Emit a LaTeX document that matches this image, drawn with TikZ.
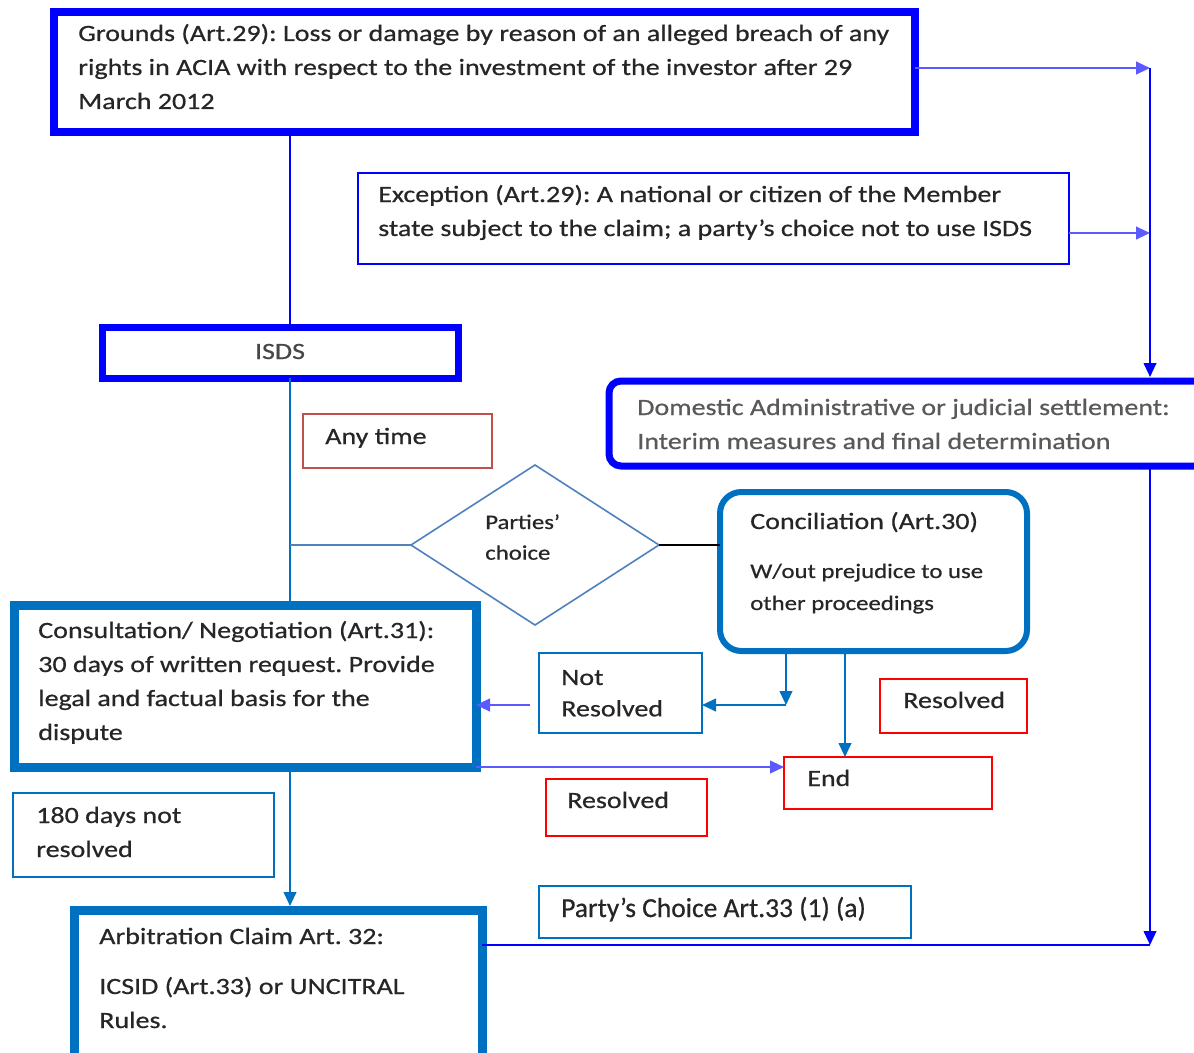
\documentclass[tikz,border=0pt]{standalone}
\usepackage{fontspec}
\setmainfont[FakeStretch=1.2,FakeBold=0.6]{Carlito}
\newfontfamily\plainfont[FakeBold=0.6]{Carlito}
\usetikzlibrary{arrows.meta,shapes.geometric}
\definecolor{pureblue}{HTML}{0000FF}
\definecolor{lightblue}{HTML}{5A5AFF}
\definecolor{midblue}{HTML}{0070C0}
\definecolor{dred}{HTML}{C0504D}
\definecolor{bred}{HTML}{FF0000}
\definecolor{dia}{HTML}{4F81BD}
\definecolor{txtc}{HTML}{262626}
\definecolor{gtxt}{HTML}{595959}
\frenchspacing
\begin{document}
\begin{tikzpicture}[x=0.75pt,y=-0.75pt,
  bx/.style n args={4}{draw, rectangle, inner sep=0pt, outer sep=0pt,
     minimum width={(#3-#1)*0.75pt}, minimum height={(#4-#2)*0.75pt},
     at={({(#1+#3)/2},{(#2+#4)/2})}},
  lw/.style={line width={#1*0.75pt}},
  tx/.style={anchor=base west, inner sep=0pt, text=txtc, font=\frenchspacing\fontsize{17.5}{25.5}\selectfont},
  txs/.style={anchor=base west, inner sep=0pt, text=txtc, font=\frenchspacing\fontsize{15.5}{24}\selectfont},
  tip/.style={-{Triangle[length=10.5pt,width=9.5pt]}},
  bline/.style={draw=pureblue, lw=2},
  barr/.style={draw=pureblue, fill=pureblue, lw=2, tip},
  larr/.style={draw=lightblue, fill=pureblue, lw=2, tip},
  mline/.style={draw=midblue, lw=1.6},
  marr/.style={draw=midblue, fill=midblue, lw=2, tip},
  dline/.style={draw=dia, lw=1.6},
  kline/.style={draw=black, lw=1.4}
]
\fill[white] (0,0) rectangle (1194,1052);
\useasboundingbox (0,0) rectangle (1194,1052);

% boxes
\node[bx={54}{12}{915}{132}, draw=pureblue, lw=8] (grounds) {};
\node[bx={358}{173}{1069}{264}, draw=pureblue, lw=2] (exception) {};
\node[bx={102}{327}{458}{378}, draw=pureblue, lw=7] (isds) {};
\node[bx={609}{381}{1215}{466}, draw=pureblue, lw=7, rounded corners=9pt] (domestic) {};
\node[bx={303}{414}{492}{468}, draw=dred, lw=2] (anytime) {};
\node[diamond, draw=dia, lw=1.6, inner sep=0pt, outer sep=0pt,
      minimum width=248*0.75pt, minimum height=160*0.75pt] (dec) at (535,545) {};
\node[bx={720}{492}{1027}{651}, draw=midblue, lw=6, rounded corners=16pt] (concil) {};
\node[bx={14}{605}{476}{767}, draw=midblue, lw=9] (consult) {};
\node[bx={539}{653}{702}{733}, draw=midblue, lw=2] (notres) {};
\node[bx={880}{679}{1027}{733}, draw=bred, lw=2] (resR) {};
\node[bx={784}{757}{992}{809}, draw=bred, lw=2] (endbox) {};
\node[bx={546}{779}{707}{836}, draw=bred, lw=2] (resM) {};
\node[bx={13}{793}{274}{877}, draw=midblue, lw=2] (days) {};
\node[bx={539}{886}{911}{938}, draw=midblue, lw=2] (party) {};
\node[bx={74}{910}{482}{1064}, draw=midblue, lw=9] (arb) {};

% texts
\node[tx] (groundsT) at (78,41) {\begin{tabular}[t]{@{}l@{}}Grounds (Art.29): Loss or damage by reason of an alleged breach of any\\ rights in ACIA with respect to the investment of the investor after 29\\ March 2012\end{tabular}};
\node[tx] (exceptionT) at (378,202) {\begin{tabular}[t]{@{}l@{}}Exception (Art.29): A national or citizen of the Member\\ state subject to the claim; a party’s choice not to use ISDS\end{tabular}};
\node[tx, anchor=base, text=gtxt!80!black] (isdsT) at (280,359) {ISDS};
\node[tx, text=gtxt] (domesticT) at (637,415) {\begin{tabular}[t]{@{}l@{}}Domestic Administrative or judicial settlement:\\ Interim measures and final determination\end{tabular}};
\node[tx] (anytimeT) at (325,444) {Any time};
\node[txs] (decT) at (485,529) {\begin{tabular}[t]{@{}l@{}}Parties’\\[-1pt] choice\end{tabular}};
\node[tx] (concilT) at (750,529) {Conciliation (Art.30)};
\node[txs] (concilT2) at (750,578) {\begin{tabular}[t]{@{}l@{}}W/out prejudice to use\\ other proceedings\end{tabular}};
\node[tx] (consultT) at (38,638) {\begin{tabular}[t]{@{}l@{}}Consultation/ Negotiation (Art.31):\\ 30 days of written request. Provide\\ legal and factual basis for the\\ dispute\end{tabular}};
\node[tx] (notresT) at (561,685) {\begin{tabular}[t]{@{}l@{}}Not\\[-2pt] Resolved\end{tabular}};
\node[tx] (resRT) at (903,708) {Resolved};
\node[tx] (endT) at (807,786) {End};
\node[tx] (resMT) at (567,808) {Resolved};
\node[tx] (daysT) at (36,823) {\begin{tabular}[t]{@{}l@{}}180 days not\\ resolved\end{tabular}};
\node[tx, font=\plainfont\fontsize{20.6}{24}\selectfont] (partyT) at (561,917) {Party’s Choice Art.33 (1) (a)};
\node[tx] (arbT) at (99,944) {\begin{tabular}[t]{@{}l@{}}Arbitration Claim Art. 32:\\[12pt] ICSID (Art.33) or UNCITRAL\\ Rules.\end{tabular}};

% helper coordinates
\coordinate (cA) at (290,0);
\coordinate (cR) at (1150,0);
\coordinate (cC1) at (786,0);
\coordinate (cC2) at (845,0);
\coordinate (rG) at (0,68);
\coordinate (rE) at (0,233);
\coordinate (rN) at (0,705);
\coordinate (rA) at (0,945);

% connectors
\draw[bline] (grounds.south -| cA) -- (isds.north -| cA);
\draw[mline] (isds.south -| cA) -- (consult.north -| cA);
\draw[dline] (dec.west -| cA) -- (dec.west);
\draw[kline] (dec.east) -- (concil.west |- dec.east);
\draw[barr, draw=lightblue] (grounds.east |- rG) -- (cR |- rG);
\draw[barr, draw=lightblue] (exception.east |- rE) -- (cR |- rE);
\draw[barr, shorten >=3pt] (cR |- rG) -- (domestic.north -| cR);
\draw[barr] (domestic.south -| cR) -- (cR |- rA);
\draw[bline] (arb.east |- rA) -- (cR |- rA);
\draw[marr] (concil.south -| cC1) -- (cC1 |- rN);
\draw[marr] (cC1 |- rN) -- (notres.east |- rN);
\draw[larr, shorten <=7pt] (notres.west |- rN) -- (consult.east |- rN);
\draw[marr] (concil.south -| cC2) -- (endbox.north -| cC2);
\draw[barr, draw=lightblue] (consult.south east) -- (consult.south east -| endbox.west);
\draw[marr, shorten >=3pt] (consult.south -| cA) -- (arb.north -| cA);
\end{tikzpicture}
\end{document}
